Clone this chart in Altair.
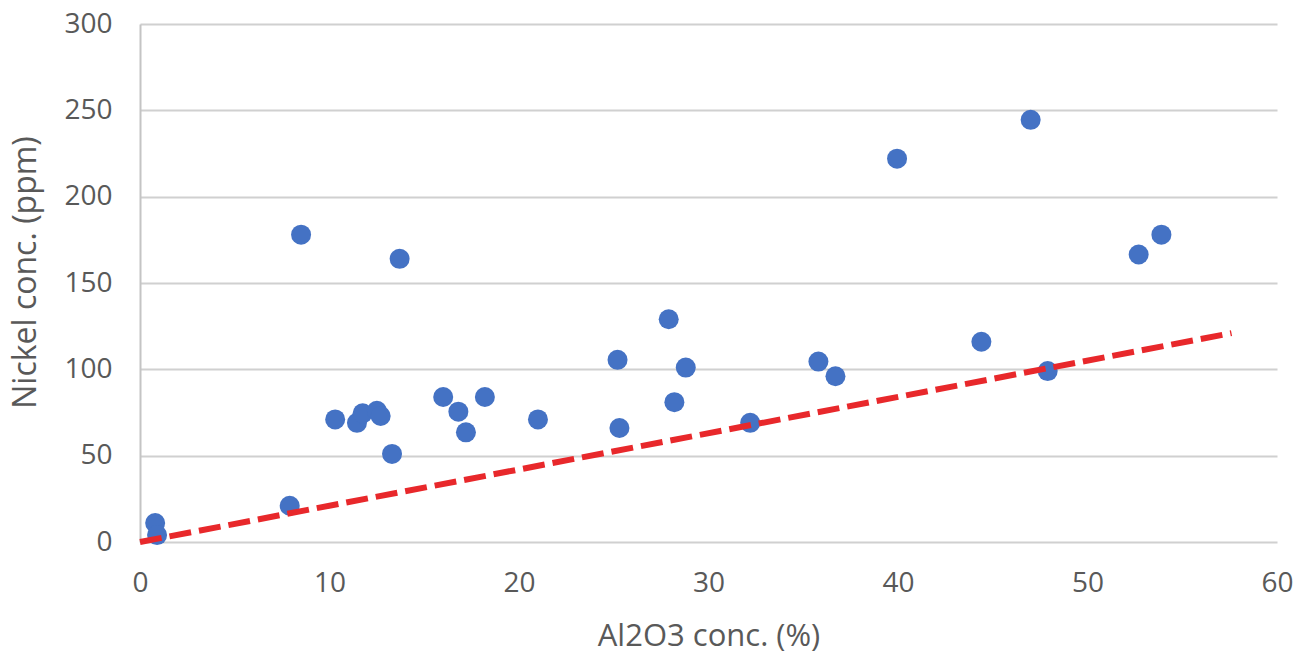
import altair as alt
import pandas as pd

# Al2O3 concentration (%) and Nickel concentration (ppm) of samples
al2o3 = [0.8, 0.9, 7.9, 8.5, 10.3, 11.45, 11.75, 12.5, 12.7, 13.3, 13.7, 16.0, 16.8,
         17.2, 18.2, 21.0, 25.2, 25.3, 27.9, 28.2, 28.8, 32.2, 35.8, 36.7, 39.95,
         44.4, 47.0, 47.9, 52.7, 53.9]
nickel = [11, 4, 21, 178, 71, 69, 74.5, 76, 73, 51, 164, 84, 75.5,
          63.5, 84, 71, 105.5, 66, 129, 81, 101, 69, 104.5, 96, 222,
          116, 244.5, 99, 166.5, 178]

# dashed reference line end points
line_x = [0, 57.6]
line_y = [0, 121]

x_ticks = [0, 10, 20, 30, 40, 50, 60]
y_ticks = [0, 50, 100, 150, 200, 250, 300]

pts = pd.DataFrame({"x": al2o3, "y": nickel})
ref = pd.DataFrame({"x": line_x, "y": line_y})

FONT = "Open Sans"
GREY = "#595959"

xscale = alt.Scale(domain=[0, 60], nice=False, zero=True)
yscale = alt.Scale(domain=[0, 300], nice=False, zero=True)

xaxis = alt.Axis(values=x_ticks, title="Al2O3 conc. (%)", grid=False, domain=False,
                 ticks=False, tickSize=0, labelPadding=27, titlePadding=24,
                 labelFlush=False, labelOverlap=False,
                 labelFontSize=28, titleFontSize=31, labelFont=FONT, titleFont=FONT,
                 labelColor=GREY, titleColor=GREY, titleFontWeight="normal")
yaxis = alt.Axis(values=y_ticks, title="Nickel conc. (ppm)", grid=True,
                 gridColor="#d0d0d0", gridWidth=2, domain=True, domainColor="#c4c4c4",
                 domainWidth=2, ticks=False, tickSize=0, labelPadding=28,
                 labelFlush=False, labelOverlap=False,
                 titlePadding=21, titleY=248, labelFontSize=28, titleFontSize=32,
                 labelFont=FONT, titleFont=FONT, labelColor=GREY, titleColor=GREY,
                 titleFontWeight="normal")

points = alt.Chart(pts).mark_circle(size=400, opacity=1, color="#4472C4").encode(
    x=alt.X("x:Q", scale=xscale, axis=xaxis),
    y=alt.Y("y:Q", scale=yscale, axis=yaxis),
)

line = alt.Chart(ref).mark_line(color="#E8282B", strokeWidth=6,
                                strokeDash=[22, 8]).encode(
    x=alt.X("x:Q", scale=xscale),
    y=alt.Y("y:Q", scale=yscale),
)

chart = alt.layer(points, line).properties(
    width=1137,
    height=518,
    autosize=alt.AutoSizeParams(type="none"),
    padding={"left": 140, "top": 24, "right": 35, "bottom": 124},
    background="white",
).configure_view(strokeWidth=0)

chart.save("out.html", embed_options={"renderer": "svg", "actions": False})
